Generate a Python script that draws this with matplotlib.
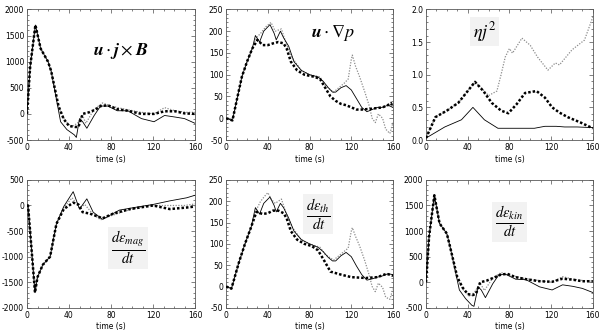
import matplotlib
matplotlib.use("Agg")
import matplotlib.pyplot as plt
from matplotlib.ticker import AutoMinorLocator

plt.rcParams["mathtext.fontset"] = "stix"

# ---- panel 1: u . j x B ----
ujb_t_thick = [0, 3, 8, 13, 20, 23, 30, 35, 40, 46, 49, 53, 59, 65, 70, 77, 86, 96, 109, 121, 131, 141, 150, 160]
ujb_thick = [0, 900, 1700, 1250, 1000, 820, 150, -100, -230, -250, -250, 0, 30, 80, 150, 165, 90, 60, 0, 0, 50, 50, 10, 0]
ujb_t_thin = [0, 3, 8, 13, 20, 23, 32, 38, 45, 47, 50, 53, 57, 64, 70, 77, 86, 96, 109, 121, 131, 141, 150, 160]
ujb_thin = [0, 900, 1700, 1250, 1000, 820, -150, -300, -400, -450, -90, -150, -275, -30, 150, 150, 60, 60, -90, -150, -30, -60, -90, -180]
ujb_t_gray = [0, 3, 8, 13, 20, 23, 30, 36, 42, 48, 53, 56, 64, 72, 80, 93, 109, 121, 131, 141, 152, 160]
ujb_gray = [0, 900, 1700, 1250, 1000, 820, 120, -120, -250, -180, -30, -180, 90, 210, 150, 90, 30, 0, 120, 60, 30, 30]

# ---- panel 2: u . grad p ----
ugp_t_thick = [0, 6, 10, 15, 20, 25, 30, 35, 40, 45, 50, 55, 58, 62, 68, 75, 85, 90, 95, 100, 105, 110, 115, 120, 125, 130, 140, 150, 155, 158, 160]
ugp_thick = [0, -5, 40, 95, 130, 160, 180, 168, 168, 172, 175, 172, 160, 130, 110, 100, 95, 90, 70, 50, 40, 33, 30, 25, 20, 20, 22, 25, 30, 35, 25]
ugp_t_thin = [0, 6, 10, 15, 20, 25, 28, 32, 36, 42, 46, 48, 52, 55, 60, 65, 72, 80, 88, 93, 98, 102, 105, 110, 115, 120, 125, 130, 135, 140, 145, 150, 155, 160]
ugp_thin = [0, -5, 40, 95, 130, 160, 190, 175, 200, 215, 195, 180, 200, 185, 165, 130, 110, 100, 95, 85, 70, 60, 60, 70, 75, 65, 45, 25, 15, 20, 25, 25, 30, 25]
ugp_t_gray = [0, 6, 10, 15, 20, 25, 29, 33, 38, 43, 47, 53, 57, 63, 72, 80, 90, 95, 103, 108, 113, 117, 120, 121, 124, 128, 133, 137, 140, 143, 146, 150, 153, 157, 160]
ugp_gray = [0, -5, 40, 95, 130, 160, 185, 195, 210, 220, 200, 205, 175, 140, 110, 100, 95, 75, 60, 70, 80, 90, 135, 145, 120, 95, 60, 30, 0, -10, 10, 0, -25, -35, -10]

# ---- panel 3: eta j^2 ----
ej_t_thick = [0, 9, 20, 31, 40, 47, 55, 63, 72, 79, 87, 95, 106, 114, 121, 128, 136, 148, 160]
ej_thick = [0.03, 0.35, 0.45, 0.57, 0.75, 0.89, 0.75, 0.57, 0.45, 0.41, 0.55, 0.72, 0.75, 0.65, 0.5, 0.42, 0.35, 0.27, 0.18]
ej_t_thin = [0, 18, 34, 45, 56, 69, 80, 90, 104, 114, 125, 133, 145, 160]
ej_thin = [0.03, 0.2, 0.31, 0.5, 0.31, 0.18, 0.18, 0.18, 0.18, 0.21, 0.21, 0.2, 0.2, 0.19]
ej_t_gray = [0, 9, 20, 31, 40, 47, 53, 60, 68, 72, 76, 80, 83, 92, 100, 107, 117, 124, 128, 140, 152, 160]
ej_gray = [0.03, 0.35, 0.45, 0.57, 0.75, 0.89, 0.8, 0.68, 0.75, 1.0, 1.27, 1.4, 1.33, 1.56, 1.45, 1.27, 1.07, 1.18, 1.15, 1.38, 1.53, 1.88]

# ---- panel 4: d eps_mag / dt ----
em_t_thick = [0, 1, 4.5, 7.6, 10, 15, 22, 28, 35, 44, 49, 53, 60, 72, 82, 98, 120, 136, 152, 160]
em_thick = [0, 0, -900, -1700, -1400, -1160, -1000, -360, -70, 55, 20, -130, -160, -250, -160, -70, 0, -70, -40, -20]
em_t_thin = [0, 1, 4.5, 7.6, 10, 15, 22, 28, 35, 44, 50, 57, 63, 72, 88, 105, 120, 136, 152, 160]
em_thin = [0, 0, -900, -1700, -1400, -1160, -1000, -360, -20, 270, -70, 130, -130, -270, -90, -30, 20, 90, 150, 200]
em_t_gray = [0, 1, 4.5, 7.6, 10, 15, 22, 28, 35, 43, 50, 55, 62, 70, 80, 95, 115, 130, 150, 160]
em_gray = [0, 0, -900, -1700, -1400, -1160, -1000, -360, -40, 150, -50, 20, -150, -280, -200, -100, 0, 0, 0, 30]

# ---- panel 5: d eps_th / dt ----
eth_t_thick = [0, 5, 12, 18, 24, 29, 35, 40, 45, 50, 55, 58, 62, 68, 75, 82, 88, 93, 100, 110, 120, 134, 145, 154, 160]
eth_thick = [0, -5, 55, 100, 140, 175, 170, 172, 178, 178, 172, 160, 130, 110, 100, 95, 85, 65, 35, 28, 22, 20, 22, 30, 25]
eth_t_thin = [0, 5, 12, 18, 24, 28, 32, 36, 42, 46, 48, 52, 55, 60, 65, 72, 80, 88, 93, 98, 102, 105, 110, 115, 120, 125, 130, 135, 140, 145, 150, 155, 160]
eth_thin = [0, -5, 55, 100, 140, 185, 170, 195, 210, 190, 175, 195, 185, 160, 130, 110, 100, 92, 82, 68, 60, 60, 72, 80, 70, 48, 28, 15, 18, 22, 25, 30, 28]
eth_t_gray = [0, 5, 12, 18, 24, 29, 33, 38, 40, 43, 47, 53, 57, 63, 72, 80, 90, 95, 103, 108, 113, 117, 120, 121, 124, 128, 133, 137, 140, 143, 146, 150, 153, 157, 160]
eth_gray = [0, -5, 55, 100, 140, 180, 200, 215, 220, 205, 195, 205, 175, 140, 110, 100, 92, 75, 62, 72, 82, 90, 130, 138, 118, 95, 60, 28, 0, -12, 8, -2, -25, -30, -5]

# ---- panel 6: d eps_kin / dt ----
ek_t_thick = [0, 3, 8, 13, 20, 23, 30, 35, 40, 45, 48, 52, 58, 65, 72, 78, 86, 96, 109, 121, 131, 141, 150, 160]
ek_thick = [0, 900, 1700, 1150, 950, 700, 100, -100, -230, -250, -220, 0, 30, 90, 150, 165, 100, 60, 20, 10, 70, 50, 20, 20]
ek_t_thin = [0, 3, 8, 13, 20, 23, 32, 38, 44, 46, 50, 53, 57, 64, 70, 77, 86, 96, 109, 121, 131, 141, 150, 160]
ek_thin = [0, 900, 1700, 1150, 950, 700, -150, -320, -450, -470, -90, -150, -300, -30, 150, 150, 60, 50, -90, -150, -50, -80, -120, -200]
ek_t_gray = [0, 3, 8, 13, 20, 23, 30, 36, 42, 47, 52, 56, 64, 72, 80, 93, 109, 121, 131, 141, 152, 160]
ek_gray = [0, 900, 1700, 1150, 950, 700, 80, -150, -280, -180, -20, -160, 80, 190, 140, 80, 30, 0, 110, 60, 30, 20]

PANELS = [
    dict(pos=[0.045, 0.582, 0.28, 0.39], ylim=(-500, 2000), yticks=[-500, 0, 500, 1000, 1500, 2000],
         ytl=["-500", "0", "500", "1000", "1500", "2000"],
         thick=(ujb_t_thick, ujb_thick), thin=(ujb_t_thin, ujb_thin), gray=(ujb_t_gray, ujb_gray),
         label=r"$\mathbfit{u}\cdot\mathbfit{j}\times\mathbfit{B}$", lxy=(0.56, 0.68), lsize=13, box=False),
    dict(pos=[0.377, 0.582, 0.278, 0.39], ylim=(-50, 250), yticks=[-50, 0, 50, 100, 150, 200, 250],
         ytl=["-50", "0", "50", "100", "150", "200", "250"],
         thick=(ugp_t_thick, ugp_thick), thin=(ugp_t_thin, ugp_thin), gray=(ugp_t_gray, ugp_gray),
         label=r"$\mathbfit{u}\cdot\nabla p$", lxy=(0.64, 0.82), lsize=13, box=False),
    dict(pos=[0.71, 0.582, 0.278, 0.39], ylim=(0, 2.0), yticks=[0, 0.5, 1.0, 1.5, 2.0],
         ytl=["0.0", "0.5", "1.0", "1.5", "2.0"],
         thick=(ej_t_thick, ej_thick), thin=(ej_t_thin, ej_thin), gray=(ej_t_gray, ej_gray),
         label=r"$\eta j^{2}$", lxy=(0.35, 0.83), lsize=13, box=True),
    dict(pos=[0.045, 0.081, 0.28, 0.382], ylim=(-2000, 500), yticks=[-2000, -1500, -1000, -500, 0, 500],
         ytl=["-2000", "-1500", "-1000", "-500", "0", "500"],
         thick=(em_t_thick, em_thick), thin=(em_t_thin, em_thin), gray=(em_t_gray, em_gray),
         label=r"$\frac{d\varepsilon_{mag}}{dt}$", lxy=(0.6, 0.47), lsize=15, box=True),
    dict(pos=[0.377, 0.081, 0.278, 0.382], ylim=(-50, 250), yticks=[-50, 0, 50, 100, 150, 200, 250],
         ytl=["-50", "0", "50", "100", "150", "200", "250"],
         thick=(eth_t_thick, eth_thick), thin=(eth_t_thin, eth_thin), gray=(eth_t_gray, eth_gray),
         label=r"$\frac{d\varepsilon_{th}}{dt}$", lxy=(0.55, 0.73), lsize=15, box=True),
    dict(pos=[0.71, 0.081, 0.278, 0.382], ylim=(-500, 2000), yticks=[-500, 0, 500, 1000, 1500, 2000],
         ytl=["-500", "0", "500", "1000", "1500", "2000"],
         thick=(ek_t_thick, ek_thick), thin=(ek_t_thin, ek_thin), gray=(ek_t_gray, ek_gray),
         label=r"$\frac{d\varepsilon_{kin}}{dt}$", lxy=(0.5, 0.67), lsize=15, box=True),
]

fig = plt.figure(figsize=(6.0, 3.35), dpi=100)

for p in PANELS:
    ax = fig.add_axes(p["pos"])
    ax.plot(*p["gray"], color="0.55", linestyle=(0, (1, 1.2)), linewidth=0.9, zorder=2)
    ax.plot(*p["thin"], color="black", linewidth=0.6, zorder=3)
    ax.plot(*p["thick"], color="black", linestyle=(0, (1, 0.8)), linewidth=1.8, zorder=4)

    ax.set_xlim(0, 160)
    ax.set_ylim(*p["ylim"])
    ax.set_xticks([0, 40, 80, 120, 160])
    ax.set_xticklabels(["0", "40", "80", "120", "160"])
    ax.set_yticks(p["yticks"])
    ax.set_yticklabels(p["ytl"])
    ax.xaxis.set_minor_locator(AutoMinorLocator(4))
    ax.yaxis.set_minor_locator(AutoMinorLocator(5))
    ax.tick_params(which="both", direction="in", top=True, right=True,
                   labelsize=5.5, pad=2, width=0.5, color="0.3")
    ax.tick_params(which="major", length=3)
    ax.tick_params(which="minor", length=1.5)
    for side in ax.spines.values():
        side.set_linewidth(0.6)
        side.set_color("0.35")
    ax.set_xlabel("time (s)", fontsize=5.5, labelpad=2)

    bbox = dict(facecolor="0.95", edgecolor="none", pad=2) if p["box"] else None
    ax.text(p["lxy"][0], p["lxy"][1], p["label"], transform=ax.transAxes,
            ha="center", va="center", fontsize=p["lsize"], bbox=bbox, zorder=5)

fig.savefig("out.png", dpi=100)
